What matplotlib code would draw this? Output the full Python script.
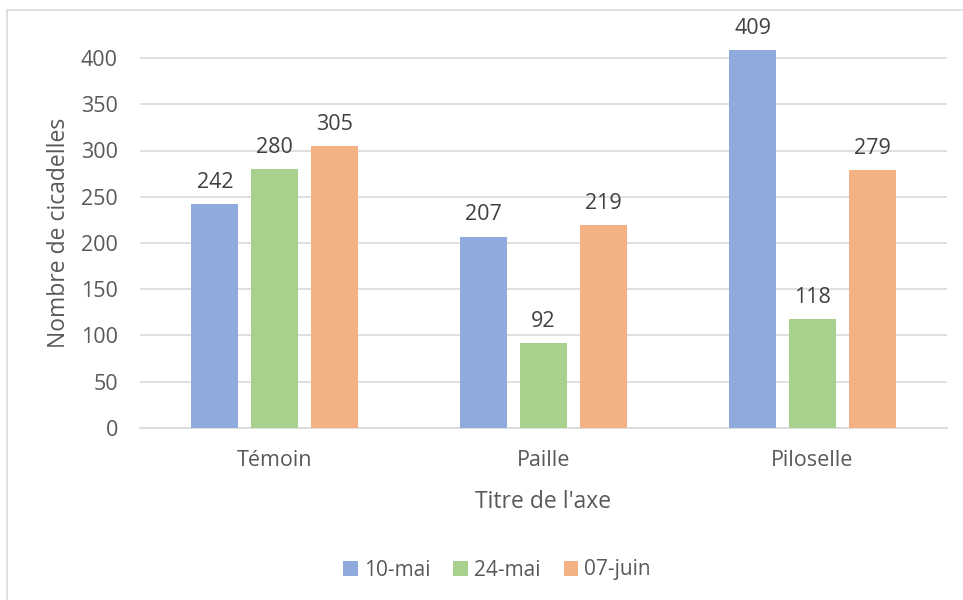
import numpy as np
import matplotlib.pyplot as plt
from matplotlib.patches import Rectangle

categories = ['Témoin', 'Paille', 'Piloselle']
series_names = ['10-mai', '24-mai', '07-juin']
mai10 = [242, 207, 409]
mai24 = [280, 92, 118]
juin07 = [305, 219, 279]
colors = ['#8FAADC', '#A9D18E', '#F4B183']

plt.rcParams['font.family'] = ['Open Sans', 'DejaVu Sans']
txt = '#595959'

fig = plt.figure(figsize=(9.63, 6), dpi=100)
ax = fig.add_axes([0.1454, 0.2867, 0.8380, 0.6937])

# cadre gris autour du graphique (coupé à droite et en bas)
fig.patches.append(Rectangle((7 / 963, -0.05), 1.1, (590 / 600) + 0.05,
                             transform=fig.transFigure, fill=False,
                             edgecolor='#D9D9D9', linewidth=1.2))

x = np.arange(len(categories))
w = 0.1735
step = 0.222
for i, (vals, name) in enumerate(zip([mai10, mai24, juin07], series_names)):
    bars = ax.bar(x + (i - 1) * step, vals, w, color=colors[i], label=name, zorder=3)
    for b, v in zip(bars, vals):
        ax.text(b.get_x() + b.get_width() / 2, v + 12, str(v), ha='center', va='bottom',
                fontsize=15.5, color='#404040')

ax.set_xlim(-0.5, 2.5)
ax.set_ylim(0, 450)
ax.set_yticks(range(0, 401, 50))
ax.set_xticks(x)
ax.set_xticklabels(categories)
ax.tick_params(axis='both', length=0, labelsize=15.5, colors=txt)
ax.tick_params(axis='y', pad=16)
ax.tick_params(axis='x', pad=16)
ax.grid(axis='y', color='#D9D9D9', linewidth=1.2, zorder=0)
for s in ['top', 'right', 'left']:
    ax.spines[s].set_visible(False)
ax.spines['bottom'].set_color('#D9D9D9')
ax.spines['bottom'].set_linewidth(1.2)

ax.set_ylabel('Nombre de cicadelles', fontsize=16.5, color=txt)
ax.set_xlabel("Titre de l'axe", fontsize=16.5, color=txt)
ax.yaxis.set_label_coords(-0.085, 0.468)
ax.xaxis.set_label_coords(0.5, -0.149)

ax.legend(loc='center', bbox_to_anchor=(497 / 963, 30 / 600), bbox_transform=fig.transFigure,
          ncol=3, frameon=False, fontsize=15, labelcolor=txt, handlelength=0.7,
          handleheight=0.7, handletextpad=0.3, columnspacing=1.1)

fig.savefig('out.png', dpi=100)
